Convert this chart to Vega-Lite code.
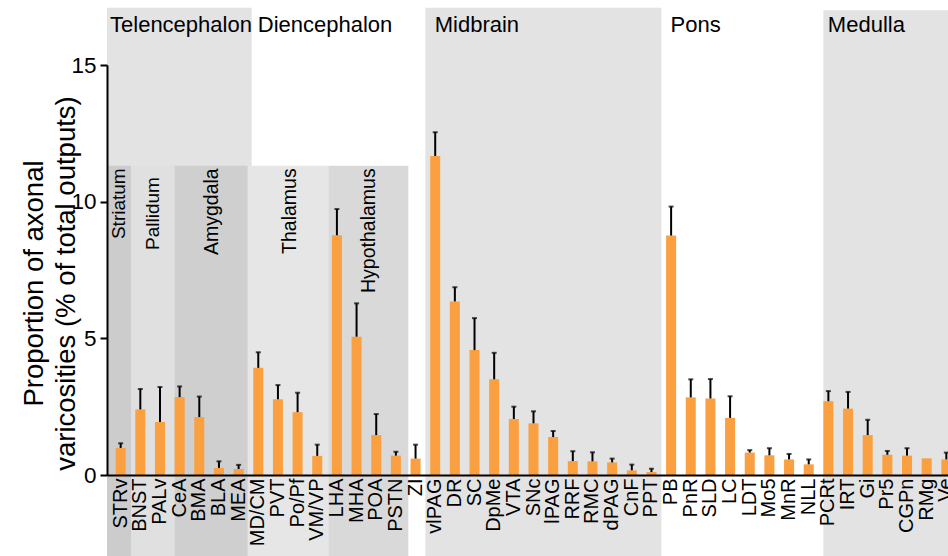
{
  "$schema": "https://vega.github.io/schema/vega-lite/v6.json",
  "autosize": "none",
  "width": 841,
  "height": 410,
  "padding": {"left": 107, "top": 65, "right": 0, "bottom": 81},
  "background": "white",
  "config": {
    "view": {"stroke": null},
    "font": "Liberation Sans",
    "axis": {"labelColor": "black", "titleColor": "black", "domainColor": "black", "tickColor": "black", "grid": false}
  },
  "datasets": {
    "bars": [
      {"area": "STRv", "value": 0.99, "upper": 1.16},
      {"area": "BNST", "value": 2.40, "upper": 3.15},
      {"area": "PALv", "value": 1.94, "upper": 3.22},
      {"area": "CeA", "value": 2.85, "upper": 3.24},
      {"area": "BMA", "value": 2.12, "upper": 2.87},
      {"area": "BLA", "value": 0.26, "upper": 0.50},
      {"area": "MEA", "value": 0.22, "upper": 0.37},
      {"area": "MD/CM", "value": 3.92, "upper": 4.49},
      {"area": "PVT", "value": 2.77, "upper": 3.29},
      {"area": "Po/Pf", "value": 2.30, "upper": 3.01},
      {"area": "VM/VP", "value": 0.70, "upper": 1.11},
      {"area": "LHA", "value": 8.77, "upper": 9.73},
      {"area": "MHA", "value": 5.06, "upper": 6.28},
      {"area": "POA", "value": 1.46, "upper": 2.23},
      {"area": "PSTN", "value": 0.71, "upper": 0.85},
      {"area": "ZI", "value": 0.60, "upper": 1.11},
      {"area": "vlPAG", "value": 11.67, "upper": 12.54},
      {"area": "DR", "value": 6.35, "upper": 6.87},
      {"area": "SC", "value": 4.57, "upper": 5.74},
      {"area": "DpMe", "value": 3.50, "upper": 4.47},
      {"area": "VTA", "value": 2.05, "upper": 2.50},
      {"area": "SNc", "value": 1.89, "upper": 2.33},
      {"area": "lPAG", "value": 1.39, "upper": 1.61},
      {"area": "RRF", "value": 0.51, "upper": 0.87},
      {"area": "RMC", "value": 0.50, "upper": 0.83},
      {"area": "dPAG", "value": 0.46, "upper": 0.60},
      {"area": "CnF", "value": 0.17, "upper": 0.38},
      {"area": "PPT", "value": 0.11, "upper": 0.23},
      {"area": "PB", "value": 8.76, "upper": 9.82},
      {"area": "PnR", "value": 2.84, "upper": 3.50},
      {"area": "SLD", "value": 2.80, "upper": 3.51},
      {"area": "LC", "value": 2.09, "upper": 2.88},
      {"area": "LDT", "value": 0.82, "upper": 0.91},
      {"area": "Mo5", "value": 0.72, "upper": 0.98},
      {"area": "MnR", "value": 0.57, "upper": 0.77},
      {"area": "NLL", "value": 0.39, "upper": 0.57},
      {"area": "PCRt", "value": 2.70, "upper": 3.07},
      {"area": "IRT", "value": 2.43, "upper": 3.04},
      {"area": "Gi", "value": 1.46, "upper": 2.02},
      {"area": "Pr5", "value": 0.74, "upper": 0.88},
      {"area": "CGPn", "value": 0.71, "upper": 0.98},
      {"area": "RMg", "value": 0.61, "upper": null},
      {"area": "Ve", "value": 0.57, "upper": 0.82}
    ],
    "regions": [
      {"region": "Telencephalon", "from": "STRv", "to": "MD/CM"},
      {"region": "Diencephalon", "from": "MD/CM", "to": "vlPAG"},
      {"region": "Midbrain", "from": "vlPAG", "to": "PB"},
      {"region": "Pons", "from": "PB", "to": "PCRt"},
      {"region": "Medulla", "from": "PCRt", "to": "Ve"},
      {"region": "Striatum", "from": "STRv", "to": "BNST"},
      {"region": "Pallidum", "from": "BNST", "to": "CeA"},
      {"region": "Amygdala", "from": "CeA", "to": "MD/CM"},
      {"region": "Thalamus", "from": "MD/CM", "to": "LHA"},
      {"region": "Hypothalamus", "from": "LHA", "to": "ZI"}
    ]
  },
  "data": {"name": "bars"},
  "layer": [
    {
      "data": {"name": "regions"},
      "transform": [{"filter": "datum.region === 'Telencephalon'"}],
      "mark": {"type": "rect", "color": "#e3e3e3"},
      "encoding": {
        "x": {"field": "from", "type": "nominal", "bandPosition": -0.86},
        "x2": {"field": "to", "bandPosition": -0.16},
        "y": {"datum": 17.09, "type": "quantitative"},
        "y2": {"datum": -3.2}
      }
    },
    {
      "data": {"name": "regions"},
      "transform": [{"filter": "datum.region === 'Midbrain'"}],
      "mark": {"type": "rect", "color": "#e3e3e3"},
      "encoding": {
        "x": {"field": "from", "type": "nominal", "bandPosition": -0.48},
        "x2": {"field": "to", "bandPosition": -0.47},
        "y": {"datum": 17.09, "type": "quantitative"},
        "y2": {"datum": -3.2}
      }
    },
    {
      "data": {"name": "regions"},
      "transform": [{"filter": "datum.region === 'Medulla'"}],
      "mark": {"type": "rect", "color": "#e3e3e3"},
      "encoding": {
        "x": {"field": "from", "type": "nominal", "bandPosition": 0},
        "x2": {"field": "to", "bandPosition": 4},
        "y": {"datum": 17.0, "type": "quantitative"},
        "y2": {"datum": -3.2}
      }
    },
    {
      "data": {"name": "regions"},
      "transform": [{"filter": "datum.region === 'Striatum'"}],
      "mark": {"type": "rect", "color": "#cccccc"},
      "encoding": {
        "x": {"field": "from", "type": "nominal", "bandPosition": -0.86},
        "x2": {"field": "to", "bandPosition": -0.43},
        "y": {"datum": 11.31, "type": "quantitative"},
        "y2": {"datum": -3.2}
      }
    },
    {
      "data": {"name": "regions"},
      "transform": [{"filter": "datum.region === 'Pallidum'"}],
      "mark": {"type": "rect", "color": "#e0e0e0"},
      "encoding": {
        "x": {"field": "from", "type": "nominal", "bandPosition": -0.43},
        "x2": {"field": "to", "bandPosition": 0.0},
        "y": {"datum": 11.31, "type": "quantitative"},
        "y2": {"datum": -3.2}
      }
    },
    {
      "data": {"name": "regions"},
      "transform": [{"filter": "datum.region === 'Amygdala'"}],
      "mark": {"type": "rect", "color": "#cfcfcf"},
      "encoding": {
        "x": {"field": "from", "type": "nominal", "bandPosition": 0.0},
        "x2": {"field": "to", "bandPosition": -0.57},
        "y": {"datum": 11.31, "type": "quantitative"},
        "y2": {"datum": -3.2}
      }
    },
    {
      "data": {"name": "regions"},
      "transform": [{"filter": "datum.region === 'Thalamus'"}],
      "mark": {"type": "rect", "color": "#e6e6e6"},
      "encoding": {
        "x": {"field": "from", "type": "nominal", "bandPosition": -0.52},
        "x2": {"field": "to", "bandPosition": -0.36},
        "y": {"datum": 11.31, "type": "quantitative"},
        "y2": {"datum": -3.2}
      }
    },
    {
      "data": {"name": "regions"},
      "transform": [{"filter": "datum.region === 'Hypothalamus'"}],
      "mark": {"type": "rect", "color": "#d9d9d9"},
      "encoding": {
        "x": {"field": "from", "type": "nominal", "bandPosition": -0.36},
        "x2": {"field": "to", "bandPosition": -0.22},
        "y": {"datum": 11.31, "type": "quantitative"},
        "y2": {"datum": -3.2}
      }
    },
    {
      "data": {"name": "regions"},
      "transform": [{"filter": "datum.region === 'Telencephalon'"}],
      "mark": {"type": "text", "align": "left", "baseline": "alphabetic", "fontSize": 22, "color": "black", "dx": 3},
      "encoding": {
        "x": {"field": "from", "type": "nominal", "bandPosition": -0.86},
        "y": {"datum": 16.2, "type": "quantitative"},
        "text": {"field": "region"}
      }
    },
    {
      "data": {"name": "regions"},
      "transform": [{"filter": {"field": "region", "oneOf": ["Diencephalon", "Midbrain", "Pons", "Medulla"]}}],
      "mark": {"type": "text", "align": "left", "baseline": "alphabetic", "fontSize": 22, "color": "black", "dx": 4.5},
      "encoding": {
        "x": {"field": "from", "type": "nominal", "bandPosition": 0},
        "y": {"datum": 16.2, "type": "quantitative"},
        "text": {"field": "region"}
      }
    },
    {
      "data": {"name": "regions"},
      "transform": [{"filter": "datum.region === 'Striatum'"}],
      "mark": {"type": "text", "align": "right", "baseline": "middle", "angle": 270, "fontSize": 19, "color": "black"},
      "encoding": {
        "x": {"field": "from", "type": "nominal", "bandPosition": 0.38},
        "y": {"datum": 11.22, "type": "quantitative"},
        "text": {"field": "region"}
      }
    },
    {
      "data": {"name": "regions"},
      "transform": [{"filter": "datum.region === 'Pallidum'"}],
      "mark": {"type": "text", "align": "right", "baseline": "middle", "angle": 270, "fontSize": 19, "color": "black"},
      "encoding": {
        "x": {"field": "from", "type": "nominal", "bandPosition": 1.76},
        "y": {"datum": 10.9, "type": "quantitative"},
        "text": {"field": "region"}
      }
    },
    {
      "data": {"name": "regions"},
      "transform": [{"filter": {"field": "region", "oneOf": ["Amygdala", "Thalamus", "Hypothalamus"]}}],
      "mark": {"type": "text", "align": "right", "baseline": "middle", "angle": 270, "fontSize": 19.5, "color": "black"},
      "encoding": {
        "x": {"field": "from", "type": "nominal", "bandPosition": 3.7},
        "y": {"datum": 11.22, "type": "quantitative"},
        "text": {"field": "region"}
      }
    },
    {
      "mark": {"type": "bar", "color": "#fba040"},
      "encoding": {
        "x": {
          "field": "area", "type": "nominal",
          "scale": {
            "domain": ["STRv","BNST","PALv","CeA","BMA","BLA","MEA","MD/CM","PVT","Po/Pf","VM/VP","LHA","MHA","POA","PSTN","ZI","vlPAG","DR","SC","DpMe","VTA","SNc","lPAG","RRF","RMC","dPAG","CnF","PPT","PB","PnR","SLD","LC","LDT","Mo5","MnR","NLL","PCRt","IRT","Gi","Pr5","CGPn","RMg","Ve"],
            "range": [0, 853], "paddingInner": 0.49, "paddingOuter": 0.44
          },
          "axis": {
            "title": null, "labelAngle": 270, "labelAlign": "right", "labelBaseline": "middle",
            "labelFontSize": 20, "labelPadding": 3, "ticks": false, "domainWidth": 2, "zindex": 1, "labelOverlap": false
          }
        },
        "y": {
          "field": "value", "type": "quantitative",
          "scale": {"domain": [0, 15], "nice": false},
          "axis": {
            "values": [0, 5, 10, 15], "title": ["Proportion of axonal", "varicosities (% of total outputs)"],
            "titleFontSize": 27.5, "titleFontWeight": "normal", "titleLineHeight": 32, "titlePadding": -10, "titleY": 218,
            "labelFontSize": 22.5, "labelPadding": 4, "tickSize": 7, "tickWidth": 2, "domainWidth": 2, "zindex": 1
          }
        }
      }
    },
    {
      "mark": {"type": "rule", "color": "black", "strokeWidth": 2},
      "encoding": {
        "x": {"field": "area", "type": "nominal"},
        "y": {"field": "value", "type": "quantitative"},
        "y2": {"field": "upper"}
      }
    },
    {
      "mark": {"type": "tick", "color": "black", "thickness": 2, "size": 5},
      "encoding": {
        "x": {"field": "area", "type": "nominal"},
        "y": {"field": "upper", "type": "quantitative"}
      }
    }
  ]
}
